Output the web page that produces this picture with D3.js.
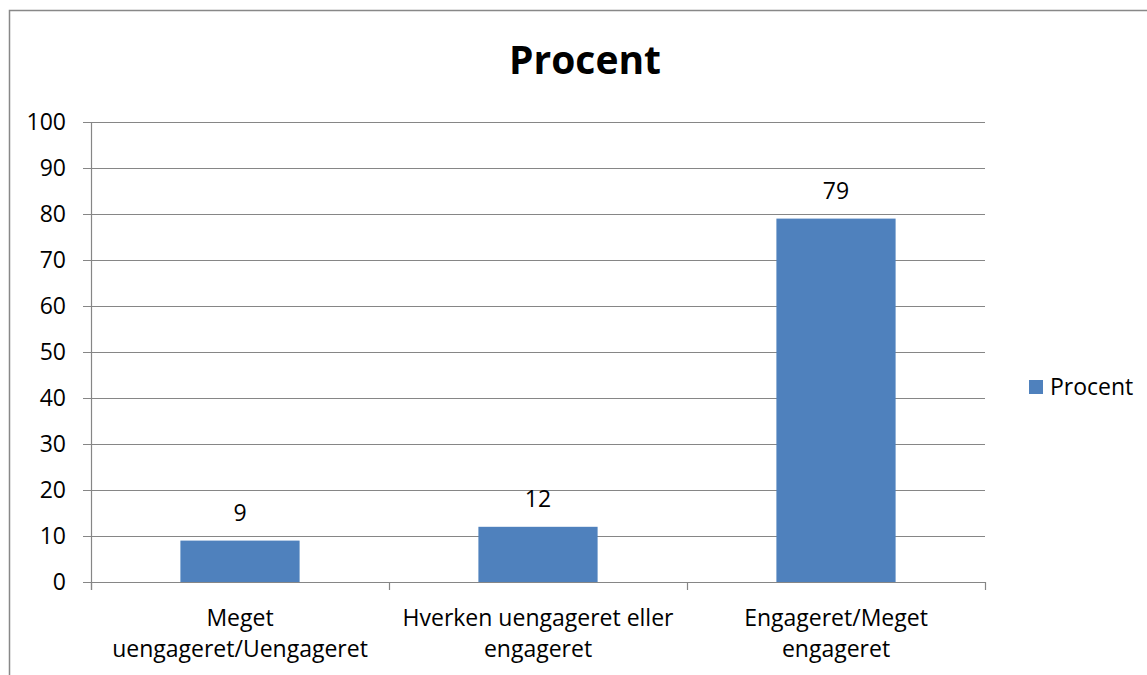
<!DOCTYPE html>
<html>
<head>
<meta charset="utf-8">
<script src="https://cdn.jsdelivr.net/npm/d3@7"></script>
<style>
  body { margin: 0; background: #fff; }
  text { font-family: "Open Sans", "Noto Sans", sans-serif; fill: #000; }
</style>
</head>
<body>
<div id="chart"></div>
<script>
// chart data
const categories = [
  ["Meget", "uengageret/Uengageret"],
  ["Hverken uengageret eller", "engageret"],
  ["Engageret/Meget", "engageret"]
];
const values = [9, 12, 79];
const yTicks = [0, 10, 20, 30, 40, 50, 60, 70, 80, 90, 100];
const seriesName = "Procent";
const title = "Procent";

const W = 1147, H = 675;
const margin = {top: 122, right: 162, bottom: 93, left: 91};
const width = W - margin.left - margin.right,
      height = H - margin.top - margin.bottom;

let svg = d3.select("#chart")
  .append("svg")
    .attr("width", W)
    .attr("height", H);

// outer chart border
svg.append("rect")
  .attr("x", 9.5)
  .attr("y", 10.5)
  .attr("width", W)
  .attr("height", H)
  .attr("fill", "none")
  .attr("stroke", "#888")
  .attr("stroke-width", 1.5);

svg.append("text")
  .attr("x", 585)
  .attr("y", 74)
  .attr("text-anchor", "middle")
  .style("font-weight", "bold")
  .style("font-size", "39px")
  .text(title);

let g = svg.append("g")
  .attr("transform", "translate(" + margin.left + "," + margin.top + ")");

let x = d3.scaleBand()
  .domain(d3.range(categories.length))
  .range([0, width])
  .paddingInner(0.6)
  .paddingOuter(0.3);

let xOuter = d3.scaleBand()
  .domain(d3.range(categories.length))
  .range([0, width]);

let y = d3.scaleLinear()
  .domain([0, 100])
  .range([height, 0]);

// gridlines
g.selectAll(".grid")
  .data(yTicks)
  .enter().append("line")
    .attr("x1", -8)
    .attr("x2", width)
    .attr("y1", d => Math.round(y(d)) + 0.5)
    .attr("y2", d => Math.round(y(d)) + 0.5)
    .attr("stroke", "#868686")
    .attr("stroke-width", 1.2);

// y axis line
g.append("line")
  .attr("x1", 0.5).attr("x2", 0.5)
  .attr("y1", 0).attr("y2", height + 8)
  .attr("stroke", "#868686")
  .attr("stroke-width", 1.2);

// y tick labels
g.selectAll(".ylab")
  .data(yTicks)
  .enter().append("text")
    .attr("x", -25)
    .attr("y", d => y(d))
    .attr("dy", "0.35em")
    .attr("text-anchor", "end")
    .style("font-size", "23px")
    .text(d => d);

// x category ticks
let xt = d3.range(categories.length + 1).map(i => i * xOuter.step());
g.selectAll(".xtick")
  .data(xt)
  .enter().append("line")
    .attr("x1", d => Math.round(d) + 0.5)
    .attr("x2", d => Math.round(d) + 0.5)
    .attr("y1", height)
    .attr("y2", height + 8)
    .attr("stroke", "#868686")
    .attr("stroke-width", 1.2);

// bars
g.selectAll(".bar")
  .data(values)
  .enter().append("rect")
    .attr("x", (d, i) => x(i))
    .attr("width", x.bandwidth())
    .attr("y", d => y(d))
    .attr("height", d => height - y(d))
    .attr("fill", "#4F81BD");

// value labels
g.selectAll(".vlab")
  .data(values)
  .enter().append("text")
    .attr("x", (d, i) => x(i) + x.bandwidth() / 2)
    .attr("y", d => y(d) - 20)
    .attr("text-anchor", "middle")
    .style("font-size", "23px")
    .text(d => d);

// category labels
categories.forEach((lines, i) => {
  let t = g.append("text")
    .attr("text-anchor", "middle")
    .attr("transform", "translate(" + (xOuter(i) + xOuter.bandwidth() / 2) + "," + (height + 44) + ")")
    .style("font-size", "23px");
  lines.forEach((ln, j) => {
    t.append("tspan")
      .attr("x", 0)
      .attr("dy", j === 0 ? 0 : 31)
      .text(ln);
  });
});

// legend
let leg = svg.append("g").attr("transform", "translate(1029,380)");
leg.append("rect")
  .attr("width", 14)
  .attr("height", 14)
  .attr("fill", "#4F81BD");
leg.append("text")
  .attr("x", 21)
  .attr("y", 7)
  .attr("dy", "0.35em")
  .style("font-size", "23px")
  .text(seriesName);
</script>
</body>
</html>
